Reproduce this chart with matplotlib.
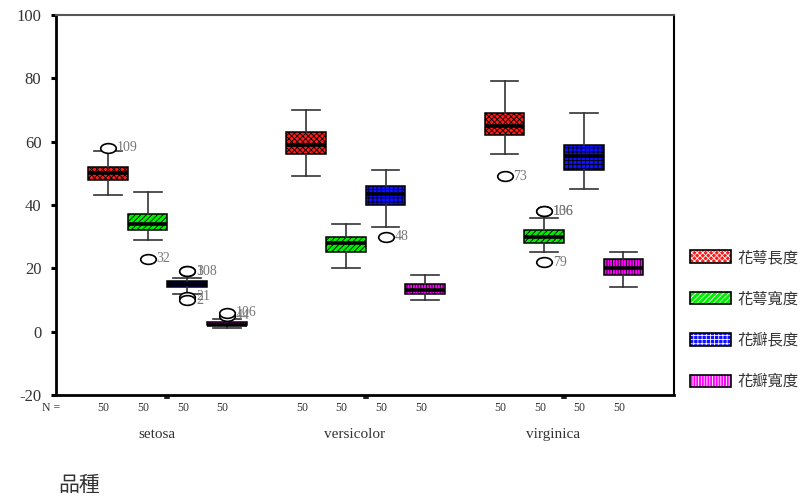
import matplotlib.pyplot as plt
from matplotlib.patches import PathPatch, Patch
from matplotlib.markers import MarkerStyle
from matplotlib.transforms import Affine2D
from matplotlib.legend_handler import HandlerTuple

# white hatch lines on the filled boxes
plt.rcParams['hatch.color'] = 'white'
plt.rcParams['hatch.linewidth'] = 0.6
plt.rcParams['axes.unicode_minus'] = False
plt.rcParams['font.family'] = ['Liberation Serif', 'Noto Sans CJK TC']

species = ['setosa', 'versicolor', 'virginica']
measures = ['花萼長度', '花萼寬度', '花瓣長度', '花瓣寬度']
counts = [[50, 50, 50, 50], [50, 50, 50, 50], [50, 50, 50, 50]]

# whisker low, Q1, median, Q3, whisker high (per species)
sepal_len = [[43, 48, 50, 52, 57], [49, 56, 59, 63, 70], [56, 62, 65, 69, 79]]
sepal_wid = [[29, 32, 34, 37, 44], [20, 25, 28, 30, 34], [25, 28, 30, 32, 36]]
petal_len = [[12, 14, 15, 16, 17], [33, 40, 43.5, 46, 51], [45, 51, 55.5, 59, 69]]
petal_wid = [[1, 2, 2, 3, 4], [10, 12, 13, 15, 18], [14, 18, 20, 23, 25]]

# outliers and their case labels
sepal_len_out = [[58], [], [49]]
sepal_len_lab = [['109'], [], ['73']]
sepal_wid_out = [[23], [], [38, 38, 22]]
sepal_wid_lab = [['32'], [], ['106', '136', '79']]
petal_len_out = [[19, 19, 11, 10], [30], []]
petal_len_lab = [['3', '108', '21', '2'], ['48'], []]
petal_wid_out = [[5, 6], [], []]
petal_wid_lab = [['44', '106'], [], []]

all_stats = [sepal_len, sepal_wid, petal_len, petal_wid]
all_out = [sepal_len_out, sepal_wid_out, petal_len_out, petal_wid_out]
all_lab = [sepal_len_lab, sepal_wid_lab, petal_len_lab, petal_wid_lab]

colors = ['#ff1a1a', '#00ee00', '#1010ff', '#ff00ff']
hatches = ['xxxxxx', '//////', '++++', '||||||']
offsets = [-0.3, -0.1, 0.1, 0.3]

fig = plt.figure(figsize=(8.06, 4.98), dpi=100)
ax = fig.add_axes([56 / 806, 1 - 395 / 498, (674 - 56) / 806, (395 - 15) / 498])

ellipse = MarkerStyle('o', transform=Affine2D().scale(1.6, 1.0))

for j in range(4):
    bstats = []
    for i in range(3):
        lo, q1, med, q3, hi = all_stats[j][i]
        bstats.append(dict(whislo=lo, q1=q1, med=med, q3=q3, whishi=hi,
                           fliers=all_out[j][i]))
    pos = [i + 1 + offsets[j] for i in range(3)]
    art = ax.bxp(bstats, positions=pos, widths=0.2, capwidths=0.14,
                 patch_artist=True, showfliers=True,
                 boxprops=dict(facecolor='none', edgecolor='black', linewidth=1.1),
                 medianprops=dict(color='black', linewidth=2.6, solid_capstyle='butt'),
                 whiskerprops=dict(color='#333333', linewidth=1.2),
                 capprops=dict(color='#333333', linewidth=1.2),
                 flierprops=dict(marker=ellipse, markersize=7, markerfacecolor='white',
                                 markeredgecolor='black', markeredgewidth=1.2,
                                 linestyle='none'))
    for box in art['boxes']:
        hp = PathPatch(box.get_path(), facecolor=colors[j], hatch=hatches[j],
                       linewidth=0, zorder=box.get_zorder() - 0.1)
        ax.add_patch(hp)
    # case labels next to outliers
    for i in range(3):
        for val, lab in zip(all_out[j][i], all_lab[j][i]):
            ax.annotate(lab, (pos[i], val), xytext=(6.5, 0), textcoords='offset points',
                        ha='left', va='center', fontsize=10, color='#777777')
    # N row
    for i in range(3):
        ax.text(pos[i] - 0.022, -0.034, str(counts[i][j]), transform=ax.get_xaxis_transform(),
                ha='center', va='center', fontsize=8.5, color='#333333')

for i, name in enumerate(species):
    ax.text(i + 1 - 0.055, -0.105, name, transform=ax.get_xaxis_transform(),
            ha='center', va='center', fontsize=11, color='#333333')

fig.text(51 / 806, 1 - 408 / 498, 'N =', ha='center', va='center', fontsize=8.5, color='#333333')
fig.text(58 / 806, 1 - 485 / 498, '品種', ha='left', va='center', fontsize=15,
         family=['Noto Sans CJK TC'], color='#333333')

ax.set_xlim(0.4376, 3.555)
ax.set_ylim(-20, 100)
ax.set_yticks([-20, 0, 20, 40, 60, 80, 100])
ax.set_xticks([1, 2, 3])
ax.tick_params(axis='x', length=3, width=4, color='#222222', labelbottom=False)
ax.tick_params(axis='y', length=3.5, width=2.2, pad=7, labelsize=12, labelcolor='#333333')

ax.spines['left'].set_linewidth(2)
ax.spines['bottom'].set_linewidth(2)
ax.spines['top'].set_linewidth(1.5)
ax.spines['top'].set_color('#555555')
ax.spines['right'].set_linewidth(1.5)

handles = [(Patch(facecolor=c, hatch=h, linewidth=0),
            Patch(facecolor='none', edgecolor='black', linewidth=1.2))
           for c, h in zip(colors, hatches)]
leg = fig.legend(handles, measures, handler_map={tuple: HandlerTuple(ndivide=1, pad=0)},
                 loc='center left', bbox_to_anchor=(690 / 806, 1 - 319.5 / 498),
                 frameon=False, borderpad=0, borderaxespad=0,
                 handlelength=2.7, handleheight=0.85, handletextpad=0.4,
                 labelspacing=1.6, labelcolor='#333333',
                 prop=dict(family=['Noto Sans CJK TC'], size=11))

fig.savefig('out.png', dpi=100)
